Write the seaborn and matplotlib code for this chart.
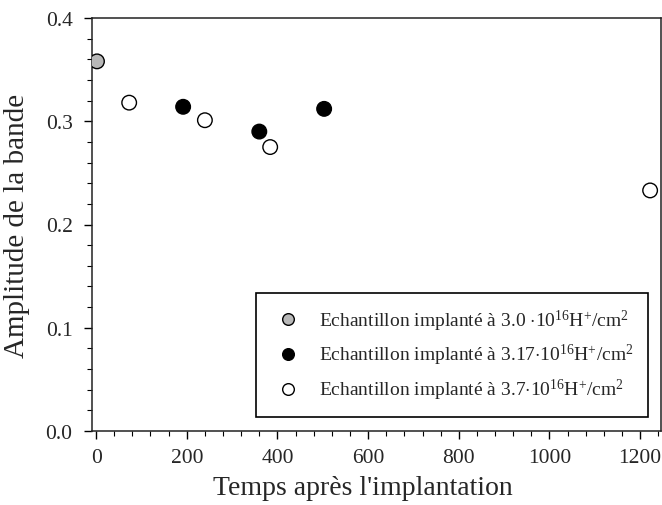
import matplotlib
matplotlib.use("Agg")
import matplotlib.pyplot as plt
from matplotlib.ticker import MultipleLocator, FormatStrFormatter
import seaborn as sns
import pandas as pd

# Measured band amplitude versus time after implantation, per implanted dose
temps_30 = [2]
ampl_30 = [0.358]
temps_317 = [192, 360, 503]
ampl_317 = [0.314, 0.290, 0.312]
temps_37 = [73, 240, 384, 1222]
ampl_37 = [0.318, 0.301, 0.275, 0.233]

labels = [
    r"Echantillon implanté à 3.0 $\cdot$10$^{16}$H$^{+}$/cm$^{2}$",
    r"Echantillon implanté à 3.17$\cdot$10$^{16}$H$^{+}$/cm$^{2}$",
    r"Echantillon implanté à 3.7$\cdot$10$^{16}$H$^{+}$/cm$^{2}$",
]
colors = ["#b8b8b8", "#000000", "#ffffff"]

df = pd.DataFrame({
    "temps": temps_30 + temps_317 + temps_37,
    "amplitude": ampl_30 + ampl_317 + ampl_37,
    "serie": [labels[0]] * len(temps_30) + [labels[1]] * len(temps_317) + [labels[2]] * len(temps_37),
})

sns.set_style("ticks")
plt.rcParams["font.family"] = ["Liberation Serif", "DejaVu Serif"]
plt.rcParams["mathtext.fontset"] = "custom"
plt.rcParams["mathtext.rm"] = "Liberation Serif"
plt.rcParams["mathtext.it"] = "Liberation Serif:italic"
plt.rcParams["mathtext.bf"] = "Liberation Serif:bold"

fig = plt.figure(figsize=(6.62, 5.06), dpi=100)
ax = fig.add_axes([92 / 662, 1 - 432 / 506, 569 / 662, 413 / 506])

sns.scatterplot(
    data=df, x="temps", y="amplitude", hue="serie",
    hue_order=labels, palette=dict(zip(labels, colors)),
    s=110, edgecolor="black", linewidth=1.0, ax=ax, zorder=3,
)

ax.set_xlim(-9, 1246)
ax.set_ylim(0.0, 0.4)
ax.xaxis.set_major_locator(MultipleLocator(200))
ax.xaxis.set_minor_locator(MultipleLocator(40))
ax.yaxis.set_major_locator(MultipleLocator(0.1))
ax.yaxis.set_minor_locator(MultipleLocator(0.02))
ax.yaxis.set_major_formatter(FormatStrFormatter("%.1f"))
ax.tick_params(which="major", direction="out", length=6, width=1, labelsize=15.5, color="black")
ax.tick_params(axis="y", which="major", pad=8)
ax.tick_params(axis="x", which="major", pad=6)
ax.tick_params(which="minor", direction="out", length=3.5, width=0.8, color="black")
for sp in ax.spines.values():
    sp.set_visible(True)
    sp.set_color("#222222")
    sp.set_linewidth(1.1)

ax.set_xlabel("Temps après l'implantation", fontsize=20)
ax.xaxis.set_label_coords(0.476, -0.107)
ax.xaxis.label.set_verticalalignment("top")
ax.set_ylabel("Amplitude de la bande", fontsize=21, labelpad=11)

handles, _ = ax.get_legend_handles_labels()
leg = ax.legend(
    handles=handles, labels=labels, loc="lower right",
    bbox_to_anchor=(0.9773, 0.034), fontsize=14, frameon=True,
    fancybox=False, edgecolor="black", framealpha=1,
    handlelength=1.8, handletextpad=0.7, labelspacing=0.5, borderpad=0.75,
    markerscale=0.8, borderaxespad=0,
)
leg.get_frame().set_linewidth(1.2)

fig.savefig("out.png", dpi=100)
